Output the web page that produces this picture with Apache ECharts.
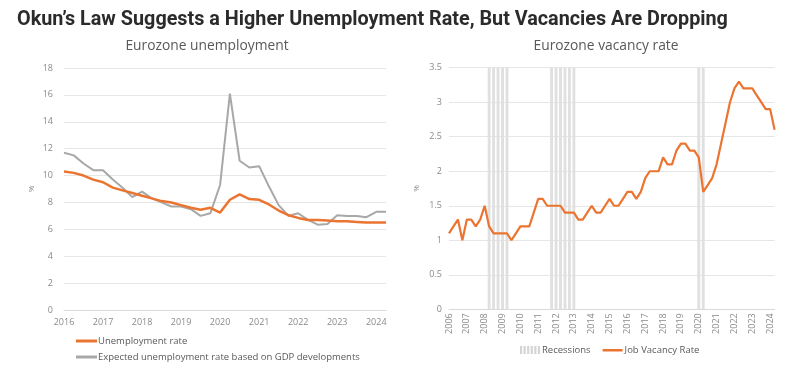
<!DOCTYPE html>
<html>
<head>
<meta charset="utf-8">
<script src="https://cdn.jsdelivr.net/npm/echarts@6/dist/echarts.min.js"></script>
<style>html,body{margin:0;padding:0;background:#fff}#c{width:798px;height:382px}</style>
</head>
<body>
<div id="c"></div>
<script>
// ---- Left chart: Eurozone unemployment (quarterly, 2016Q1 - 2024Q2) ----
const unempYears = ['2016','2017','2018','2019','2020','2021','2022','2023','2024'];
const unemploymentRate = [
  10.3, 10.2, 10.0, 9.7,
  9.5, 9.1, 8.9, 8.7,
  8.5, 8.3, 8.1, 8.0,
  7.8, 7.6, 7.45, 7.6,
  7.25, 8.2, 8.6, 8.25,
  8.2, 7.85, 7.4, 7.05,
  6.85, 6.7, 6.7, 6.65,
  6.6, 6.6, 6.55, 6.5,
  6.5, 6.5
];
const expectedRate = [
  11.7, 11.5, 10.9, 10.4,
  10.4, 9.7, 9.1, 8.4,
  8.8, 8.3, 8.0, 7.7,
  7.7, 7.5, 7.0, 7.2,
  9.3, 16.1, 11.1, 10.6,
  10.7, 9.2, 7.8, 7.0,
  7.2, 6.7, 6.35, 6.4,
  7.05, 7.0, 7.0, 6.9,
  7.3, 7.3
];
const unempTicks = [0, 2, 4, 6, 8, 10, 12, 14, 16, 18];

// ---- Right chart: Eurozone vacancy rate (quarterly, 2006Q1 - 2024Q2) ----
const vacYears = ['2006','2007','2008','2009','2010','2011','2012','2013','2014','2015',
                  '2016','2017','2018','2019','2020','2021','2022','2023','2024'];
const jobVacancyRate = [
  1.1, 1.2, 1.3, 1.0,
  1.3, 1.3, 1.2, 1.3,
  1.5, 1.2, 1.1, 1.1,
  1.1, 1.1, 1.0, 1.1,
  1.2, 1.2, 1.2, 1.4,
  1.6, 1.6, 1.5, 1.5,
  1.5, 1.5, 1.4, 1.4,
  1.4, 1.3, 1.3, 1.4,
  1.5, 1.4, 1.4, 1.5,
  1.6, 1.5, 1.5, 1.6,
  1.7, 1.7, 1.6, 1.7,
  1.9, 2.0, 2.0, 2.0,
  2.2, 2.1, 2.1, 2.3,
  2.4, 2.4, 2.3, 2.3,
  2.2, 1.7, 1.8, 1.9,
  2.1, 2.4, 2.7, 3.0,
  3.2, 3.3, 3.2, 3.2,
  3.2, 3.1, 3.0, 2.9,
  2.9, 2.6
];
const recessionQuarters = ['2008Q2','2008Q3','2008Q4','2009Q1','2009Q2',
  '2011Q4','2012Q1','2012Q2','2012Q3','2012Q4','2013Q1',
  '2020Q1','2020Q2'];
const recessionHeight = 3.5;
const vacTicks = [0, 0.5, 1, 1.5, 2, 2.5, 3, 3.5];

function quarters(years, n) {
  const out = [];
  years.forEach(y => { for (let q = 1; q <= 4; q++) out.push(y + 'Q' + q); });
  return out.slice(0, n);
}
const unempCats = quarters(unempYears, unemploymentRate.length);
const vacCats = quarters(vacYears, jobVacancyRate.length);
const recessionData = vacCats.map(c => recessionQuarters.includes(c) ? recessionHeight : null);

const ORANGE = '#EB7430';
const GRAY = '#A8A8A8';
const REC = '#e0e0e0';
const AXIS_TXT = '#8a8a8a';
const FONT = '"Open Sans", "Noto Sans", sans-serif';

const stripeIcon = 'path://M0,0h2.2v8h-2.2z M3.6,0h2.2v8h-2.2z M7.2,0h2.2v8h-2.2z M10.8,0h2.2v8h-2.2z M14.4,0h2.2v8h-2.2z M18,0h2.2v8h-2.2z';
const lineIcon = 'path://M0,3h20v2.4h-20z M0,0h0.01v0.01h-0.01z M0,8h0.01v0.01h-0.01z';

const chart = echarts.init(document.getElementById('c'), null, {renderer: 'canvas'});
chart.setOption({
  animation: false,
  backgroundColor: '#fff',
  textStyle: {fontFamily: FONT},
  title: [
    {text: 'Okun\u2019s Law Suggests a Higher Unemployment Rate, But Vacancies Are Dropping',
     left: 17, top: 10, padding: 0,
     textStyle: {fontFamily: 'Roboto, sans-serif', fontSize: 19.8, fontWeight: 'bold', color: '#2b2b2b'}},
    {text: 'Eurozone unemployment', left: 207, top: 39, padding: 0, textAlign: 'center',
     textStyle: {fontFamily: FONT, fontSize: 13.8, fontWeight: 'normal', color: '#595959'}},
    {text: 'Eurozone vacancy rate', left: 606, top: 39, padding: 0, textAlign: 'center',
     textStyle: {fontFamily: FONT, fontSize: 13.8, fontWeight: 'normal', color: '#595959'}}
  ],
  legend: [
    {orient: 'vertical', left: 76, top: 336, padding: 0, itemGap: 6,
     itemWidth: 21, itemHeight: 3, icon: 'rect',
     textStyle: {fontSize: 9.5, color: '#595959', padding: [0, 0, 0, -4]},
     data: [{name: 'Unemployment rate'}, {name: 'Expected unemployment rate based on GDP developments'}]},
    {orient: 'horizontal', left: 520, top: 345, padding: 0, itemGap: 12,
     itemWidth: 20, itemHeight: 8,
     textStyle: {fontSize: 9.5, color: '#595959', padding: [0, 0, 0, -3]},
     data: [{name: 'Recessions', icon: stripeIcon, itemStyle: {color: '#d4d4d4'}},
            {name: 'Job Vacancy Rate', icon: lineIcon}]}
  ],
  grid: [
    {left: 64, top: 68, width: 322, height: 242, containLabel: false},
    {left: 449, top: 67.7, width: 325.6, height: 241.6, containLabel: false}
  ],
  xAxis: [
    {gridIndex: 0, type: 'category', data: unempCats, boundaryGap: false,
     axisLine: {lineStyle: {color: '#d9d9d9'}}, axisTick: {show: false},
     axisLabel: {interval: 3, formatter: v => v.slice(0, 4), color: AXIS_TXT, fontSize: 9, margin: 8},
     splitLine: {show: false}},
    {gridIndex: 1, type: 'category', data: vacCats, boundaryGap: false,
     axisLine: {lineStyle: {color: '#d9d9d9'}}, axisTick: {show: false},
     axisLabel: {interval: 3, formatter: v => v.slice(0, 4), color: AXIS_TXT, fontSize: 9, margin: 4, rotate: 90},
     splitLine: {show: false}}
  ],
  yAxis: [
    {gridIndex: 0, type: 'value', min: unempTicks[0], max: unempTicks[unempTicks.length - 1], interval: 2,
     name: '%', nameLocation: 'middle', nameGap: 28, nameRotate: 90,
     nameTextStyle: {color: AXIS_TXT, fontSize: 8},
     axisLine: {show: false}, axisTick: {show: false},
     axisLabel: {color: AXIS_TXT, fontSize: 9, margin: 11},
     splitLine: {lineStyle: {color: '#e6e6e6'}}},
    {gridIndex: 1, type: 'value', min: vacTicks[0], max: vacTicks[vacTicks.length - 1], interval: 0.5,
     name: '%', nameLocation: 'middle', nameGap: 28, nameRotate: 90,
     nameTextStyle: {color: AXIS_TXT, fontSize: 8},
     axisLine: {show: false}, axisTick: {show: false},
     axisLabel: {color: AXIS_TXT, fontSize: 9, margin: 7},
     splitLine: {lineStyle: {color: '#e6e6e6'}}}
  ],
  series: [
    {name: 'Expected unemployment rate based on GDP developments', type: 'line',
     xAxisIndex: 0, yAxisIndex: 0, data: expectedRate, showSymbol: false,
     lineStyle: {color: GRAY, width: 2}, itemStyle: {color: GRAY}, z: 3},
    {name: 'Unemployment rate', type: 'line',
     xAxisIndex: 0, yAxisIndex: 0, data: unemploymentRate, showSymbol: false,
     lineStyle: {color: ORANGE, width: 2.5}, itemStyle: {color: ORANGE}, z: 4},
    {name: 'Recessions', type: 'bar', xAxisIndex: 1, yAxisIndex: 1, data: recessionData,
     barWidth: '65%', itemStyle: {color: REC}, z: 1},
    {name: 'Job Vacancy Rate', type: 'line', xAxisIndex: 1, yAxisIndex: 1, data: jobVacancyRate,
     showSymbol: false, lineStyle: {color: ORANGE, width: 2.2}, itemStyle: {color: ORANGE}, z: 4}
  ]
});
</script>
</body>
</html>
